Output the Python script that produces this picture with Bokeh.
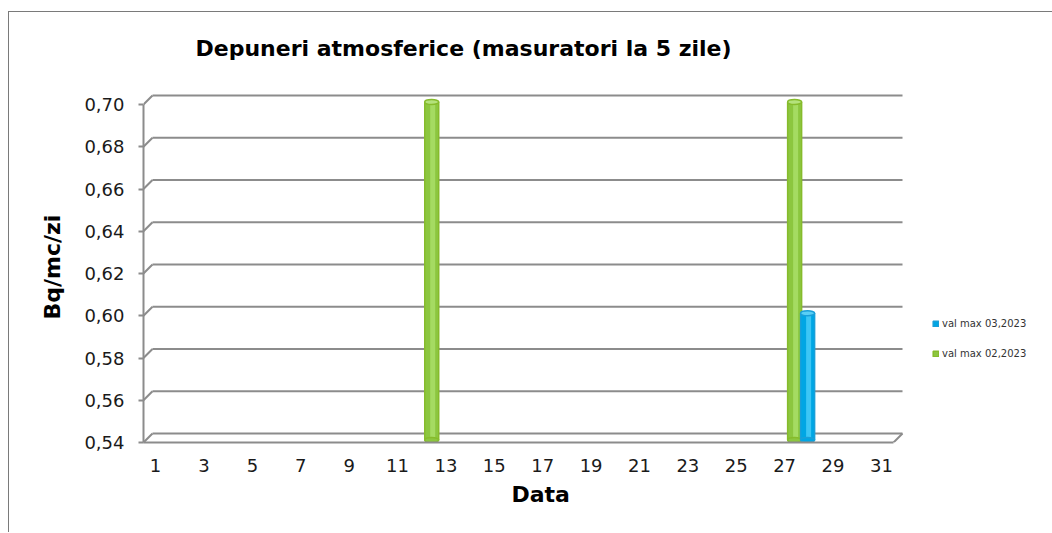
from bokeh.plotting import figure
from bokeh.models import (Range1d, FixedTicker, CustomJSTickFormatter, ColumnDataSource,
                          Legend, LegendItem, Title, Label)
from bokeh.transform import dodge
from bokeh.embed import file_html
from bokeh.resources import INLINE

# ---------------- data ----------------
title_text = "Depuneri atmosferice (masuratori la 5 zile)"
y_label = "Bq/mc/zi"
x_label = "Data"
days = list(range(1, 32))
x_tick_days = list(range(1, 32, 2))
y_ticks = [0.54, 0.56, 0.58, 0.60, 0.62, 0.64, 0.66, 0.68, 0.70]

feb_name = "val max 02,2023"
feb_days = [12, 27]
feb_vals = [0.70, 0.70]

mar_name = "val max 03,2023"
mar_days = [27]
mar_vals = [0.60]

# ---------------- geometry (styling) ----------------
y_min, y_max = y_ticks[0], y_ticks[-1]
FRONT_W, FRONT_H, DEPTH, PAD = 750, 338, 9, 2
TOP_ROOM = 420            # frame height in px (includes room for the title)
ppx = FRONT_W / len(days)
ppy = FRONT_H / (y_max - y_min)
dx = DEPTH / ppx
dy = DEPTH / ppy
x0, x1 = 0.5, len(days) + 0.5
y_top = y_min + TOP_ROOM / ppy
BAR_UP = 2.5 / ppy

FONT = "DejaVu Sans"
GRID = "#8c8c8c"

p = figure(x_range=Range1d(x0, x1 + dx + PAD / ppx),
           y_range=Range1d(y_min, y_top),
           frame_width=FRONT_W + DEPTH + PAD, frame_height=TOP_ROOM,
           min_border_left=134, min_border_top=10, min_border_right=148, min_border_bottom=90,
           output_backend="svg", toolbar_location=None)
p.extra_y_ranges = {"bars": Range1d(y_min - BAR_UP, y_top - BAR_UP)}
p.styles = {"border-left": "1px solid #7a7a7a", "border-top": "1px solid #7a7a7a",
            "margin-top": "11px", "margin-left": "8px"}
p.outline_line_color = None
p.grid.visible = False
p.background_fill_color = "white"
p.border_fill_color = "white"

# chart title (inside the frame's empty top area)
p.add_layout(Label(x=x0 + 52 / ppx, y=y_min + (442 - 47.5) / ppy, text=title_text,
                   text_font=FONT, text_font_size="22px", text_font_style="bold",
                   text_color="#000000", text_align="left", text_baseline="alphabetic"))

# y axis
ya = p.yaxis[0]
ya.ticker = FixedTicker(ticks=y_ticks)
ya.formatter = CustomJSTickFormatter(code="return tick.toFixed(2).replace('.', ',');")
ya.bounds = (y_min, y_max)
ya.axis_line_color = GRID
ya.axis_line_width = 2
ya.major_tick_line_color = GRID
ya.major_tick_line_width = 2
ya.major_tick_out = 5
ya.major_tick_in = 0
ya.minor_tick_line_color = None
ya.major_label_standoff = 14
ya.major_label_text_font = FONT
ya.major_label_text_font_size = "18px"
ya.major_label_text_color = "#1a1a1a"

p.add_layout(Title(text=y_label, align="left", offset=123, standoff=33,
                   vertical_align="bottom", text_font=FONT, text_font_size="22px",
                   text_font_style="bold", text_color="#000000"), "left")

# x axis
xa = p.xaxis[0]
xa.ticker = FixedTicker(ticks=x_tick_days)
xa.bounds = (x0, x1)
xa.axis_line_color = GRID
xa.axis_line_width = 2
xa.major_tick_out = 0
xa.major_tick_in = 0
xa.minor_tick_line_color = None
xa.major_label_standoff = 16
xa.major_label_text_font = FONT
xa.major_label_text_font_size = "18px"
xa.major_label_text_color = "#1a1a1a"

p.add_layout(Title(text=x_label, align="left", offset=368, standoff=11, text_font=FONT,
                   text_font_size="22px", text_font_style="bold", text_color="#000000"),
             "below")

# back wall gridlines, diagonals, floor
back_y = [t + dy for t in y_ticks]
p.segment(x0=[x0 + dx] * len(y_ticks), x1=[x1 + dx] * len(y_ticks), y0=back_y, y1=back_y,
          line_color=GRID, line_width=2)
p.segment(x0=[x0] * len(y_ticks), x1=[x0 + dx] * len(y_ticks), y0=y_ticks, y1=back_y,
          line_color=GRID, line_width=2)
p.segment(x0=[x1], x1=[x1 + dx], y0=[y_min], y1=[y_min + dy], line_color=GRID, line_width=2)

# cylinders
bar_w = 14 / ppx
shift = 16.5 / ppx
half = 6.5 / ppx

def cylinder(days_, vals_, off, body, edge, light, top):
    src = ColumnDataSource(dict(day=days_, val=vals_, base=[y_min] * len(days_)))
    xf = dodge("day", shift + off)
    r = p.vbar(x=xf, top="val", bottom="base", width=bar_w, source=src, y_range_name="bars",
               fill_color=body, line_color=edge, line_width=1.5)
    p.vbar(x=dodge("day", shift + off + 1.0 / ppx), top="val", bottom="base",
           width=5 / ppx, source=src, fill_color=light, line_color=None, y_range_name="bars")
    p.ellipse(x=xf, y="base", width=14, height=5, width_units="screen", height_units="screen",
              source=src, fill_color=body, line_color=edge, line_width=1.5, y_range_name="bars")
    p.ellipse(x=xf, y="val", width=14, height=5, width_units="screen", height_units="screen",
              source=src, fill_color=top, line_color=edge, line_width=1.5, y_range_name="bars")
    return r

r_feb = cylinder(feb_days, feb_vals, -half, "#8cc63f", "#86bb2c", "#a5db62", "#b4e27c")
r_mar = cylinder(mar_days, mar_vals, half, "#00a6e4", "#1a9fd8", "#3cc6f5", "#59cff6")

legend = Legend(items=[LegendItem(label=mar_name, renderers=[r_mar]),
                       LegendItem(label=feb_name, renderers=[r_feb])],
                location=(28, 83))
legend.border_line_color = None
legend.background_fill_alpha = 0
legend.padding = 0
legend.margin = 0
legend.spacing = 18
legend.glyph_width = 7
legend.glyph_height = 7
legend.label_standoff = 3
legend.label_height = 12
legend.label_text_font = FONT
legend.label_text_font_size = "10px"
legend.label_text_color = "#333333"
p.add_layout(legend, "right")

open("out.html", "w").write(file_html(p, INLINE))
